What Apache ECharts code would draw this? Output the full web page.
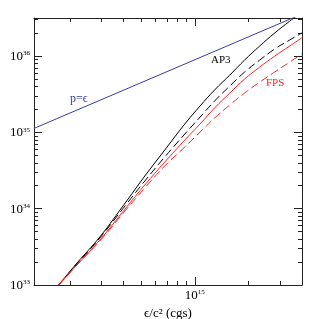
<!DOCTYPE html>
<html><head><meta charset="utf-8">
<script src="https://cdn.jsdelivr.net/npm/echarts@6/dist/echarts.min.js"></script>
<style>html,body{margin:0;padding:0;background:#fff}#c{width:319px;height:319px}</style>
</head><body><div id="c"></div>
<script>
// energy density eps/c^2 (g/cm^3)
const eps = [1.73e14, 2.19e14, 2.94e14, 4.11e14, 5.25e14, 6.79e14, 8.79e14, 1.07e15, 1.29e15, 1.57e15, 1.90e15, 2.31e15, 2.80e15, 3.40e15, 3.97e15];
// pressures (dyn/cm^2)
const pAP3 = [1.00e33, 1.94e33, 4.26e33, 1.22e34, 2.68e34, 5.88e34, 1.29e35, 2.22e35, 3.60e35, 5.65e35, 8.89e35, 1.36e36, 2.01e36, 2.88e36, 3.78e36];
const pAP3dash = [1.00e33, 1.89e33, 4.13e33, 1.12e34, 2.31e34, 4.76e34, 9.53e34, 1.59e35, 2.58e35, 4.06e35, 6.19e35, 8.89e35, 1.24e36, 1.63e36, 2.01e36];
const pFPS = [1.00e33, 1.83e33, 3.89e33, 1.02e34, 2.05e34, 4.09e34, 7.95e34, 1.29e35, 2.09e35, 3.28e35, 5.01e35, 7.20e35, 1.00e36, 1.36e36, 1.73e36];
const pFPSdash = [1.00e33, 1.83e33, 3.77e33, 9.62e33, 1.87e34, 3.63e34, 6.44e34, 1.01e35, 1.54e35, 2.29e35, 3.28e35, 4.58e35, 6.19e35, 8.37e35, 1.07e36];
// causality line p = eps
const causalEps = [1.26e14, 3.98e15];
const causalP = [1.13e35, 3.57e36];
// ticks
const xMajor = [1e15];
const xMinor = [2e14, 3e14, 4e14, 5e14, 6e14, 7e14, 8e14, 9e14, 2e15, 3e15];
const yMajor = [1e33, 1e34, 1e35, 1e36];
const yMinor = [2e33, 3e33, 4e33, 5e33, 6e33, 7e33, 8e33, 9e33, 2e34, 3e34, 4e34, 5e34, 6e34, 7e34, 8e34, 9e34, 2e35, 3e35, 4e35, 5e35, 6e35, 7e35, 8e35, 9e35, 2e36, 3e36];
const labels = { causal: 'p=\u03f5', ap3: 'AP3', fps: 'FPS' };
const xTitle = '\u03f5/c\u00b2 (cgs)';
const yTitle = 'p (cgs)';

const xMin = Math.pow(10, 14.1), xMax = Math.pow(10, 15.6);
const yMin = 1e33, yMax = Math.pow(10, 36.5);
const FONT = "'Liberation Serif', 'DejaVu Serif', serif";
const AX = '#222';

function pow10fmt(v) {
  const e = Math.round(Math.log10(v));
  return '{b|10}{s|' + e + '}';
}
const rich = {
  b: { fontFamily: FONT, fontSize: 13, color: '#000', verticalAlign: 'bottom', lineHeight: 14 },
  s: { fontFamily: FONT, fontSize: 7, color: '#000', verticalAlign: 'bottom', lineHeight: 14, padding: [0, 0, 6, 0] }
};

function axis(kind, pos, major, showLine, showLabel, extra) {
  const isX = kind === 'x';
  const o = {
    type: 'log', logBase: 10,
    min: isX ? xMin : yMin, max: isX ? xMax : yMax,
    position: pos,
    gridIndex: 0,
    splitLine: { show: false },
    axisLine: { show: showLine, onZero: false, lineStyle: { color: AX, width: 1 } },
    axisTick: { show: true, inside: true, length: major ? 8 : 4, customValues: major ? (isX ? xMajor : yMajor) : (isX ? xMinor : yMinor), lineStyle: { color: AX, width: 1 } },
    axisLabel: showLabel ? { show: true, customValues: isX ? xMajor : yMajor, formatter: pow10fmt, rich: rich, margin: isX ? 3 : 4 } : { show: false },
    minorTick: { show: false }
  };
  return Object.assign(o, extra || {});
}

const chart = echarts.init(document.getElementById('c'), null, { renderer: 'canvas' });
const toPts = (xs, ys) => xs.map((x, i) => [x, ys[i]]);

chart.setOption({
  animation: false,
  backgroundColor: '#fff',
  grid: { left: 34, right: 17, top: 18, bottom: 34, containLabel: false, outerBoundsMode: 'none' },
  xAxis: [
    axis('x', 'bottom', true, true, true, { name: xTitle, nameLocation: 'middle', nameGap: 15, nameTextStyle: { fontFamily: FONT, fontSize: 13, color: '#000' } }),
    axis('x', 'bottom', false, false, false),
    axis('x', 'top', true, true, false),
    axis('x', 'top', false, false, false)
  ],
  yAxis: [
    axis('y', 'left', true, true, true, { name: yTitle, nameLocation: 'middle', nameGap: 26, nameRotate: 90, nameTextStyle: { fontFamily: FONT, fontSize: 13, color: '#000' } }),
    axis('y', 'left', false, false, false),
    axis('y', 'right', true, true, false),
    axis('y', 'right', false, false, false)
  ],
  series: [
    { type: 'line', name: 'causal', data: toPts(causalEps, causalP), showSymbol: false, lineStyle: { color: '#3a3aa6', width: 1 }, clip: true },
    { type: 'line', name: 'AP3', data: toPts(eps, pAP3), showSymbol: false, smooth: 0.4, lineStyle: { color: '#000', width: 1 }, clip: true },
    { type: 'line', name: 'AP3b', data: toPts(eps, pAP3dash), showSymbol: false, smooth: 0.4, lineStyle: { color: '#000', width: 1, type: [8, 4] }, clip: true },
    { type: 'line', name: 'FPS', data: toPts(eps, pFPS), showSymbol: false, smooth: 0.4, lineStyle: { color: '#f22', width: 1 }, clip: true },
    { type: 'line', name: 'FPSb', data: toPts(eps, pFPSdash), showSymbol: false, smooth: 0.4, lineStyle: { color: '#f22', width: 1, type: [8, 4] }, clip: true }
  ],
  graphic: [
    { type: 'text', left: 70, top: 93, style: { text: labels.causal, fill: '#3a3aa6', font: '12px ' + FONT } },
    { type: 'text', left: 211, top: 55, style: { text: labels.ap3, fill: '#000', font: '11px ' + FONT } },
    { type: 'text', left: 266, top: 78, style: { text: labels.fps, fill: '#f22', font: '11px ' + FONT } }
  ]
});
</script>
</body></html>
